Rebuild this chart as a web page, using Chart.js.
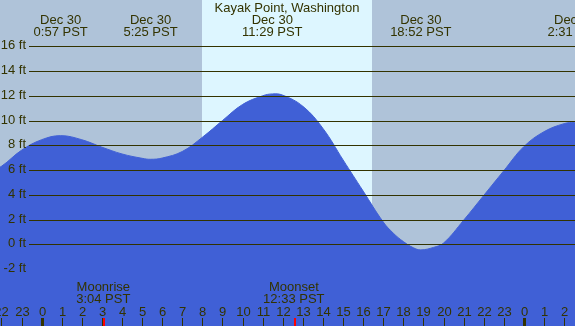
<!DOCTYPE html>
<html>
<head>
<meta charset="utf-8">
<script src="https://cdn.jsdelivr.net/npm/chart.js@4/dist/chart.umd.min.js"></script>
<style>
  html, body { margin: 0; padding: 0; background: #afc3d9; }
  #tide { display: block; }
</style>
</head>
<body>
<canvas id="tide" width="575" height="326"></canvas>
<script>
// tide heights (ft), hours from midnight Dec 30
const hours = [-3, -2, -1, 0, 0.95, 2, 3, 4, 5, 5.42, 6, 7, 8, 9, 10, 11, 11.48, 12, 13, 14, 15, 16, 17, 17.5, 18, 18.5, 18.87, 19.5, 20, 21, 22, 23, 24, 25, 26, 26.52, 27.5];
const heights = [5.4, 6.3, 7.6, 8.45, 8.78, 8.45, 7.85, 7.3, 6.95, 6.87, 6.97, 7.5, 8.65, 10.0, 11.3, 12.0, 12.15, 12.05, 11.15, 9.36, 6.82, 4.3, 1.8, 0.9, 0.22, -0.28, -0.45, -0.25, 0.1, 1.95, 3.95, 5.95, 7.9, 9.1, 9.75, 9.85, 9.8];

// high / low tide labels
const extremeHours = [0.95, 5.42, 11.48, 18.87, 26.52];
const extremeTimes = ['0:57 PST', '5:25 PST', '11:29 PST', '18:52 PST', '2:31 PST'];

// y tick levels (no line drawn at -2)
const levels = [16, 14, 12, 10, 8, 6, 4, 2, 0, -2];
const lineLevels = [16, 14, 12, 10, 8, 6, 4, 2, 0];

// daylight
const sunrise = 7.98;
const sunset = 16.44;

// moon events
const moonHours = [3.07, 12.55];
const moonNames = ['Moonrise', 'Moonset'];
const moonTimes = ['3:04 PST', '12:33 PST'];

const title = 'Kayak Point, Washington';

const nightColor = '#afc3d9';
const dayColor = '#ddf6ff';
const waterColor = '#4060d6';
const inkColor = '#333300';
const font = '13px "Liberation Sans", Arial, sans-serif';

const tidePlugin = {
  id: 'tide',
  beforeDraw(chart) {
    const { ctx, scales: { x } } = chart;
    ctx.save();
    ctx.fillStyle = nightColor;
    ctx.fillRect(0, 0, chart.width, chart.height);
    //daylight band
    const x0 = x.getPixelForValue(sunrise);
    const x1 = x.getPixelForValue(sunset);
    ctx.fillStyle = dayColor;
    ctx.fillRect(x0, 0, x1 - x0, chart.height);
    ctx.restore();
  },
  afterDatasetsDraw(chart) {
    const { ctx, scales: { x, y } } = chart;
    const W = chart.width, H = chart.height;
    ctx.save();
    ctx.font = font;

    //grid lines
    ctx.strokeStyle = inkColor;
    ctx.lineWidth = 1;
    lineLevels.forEach((v) => {
      const py = Math.round(y.getPixelForValue(v)) + 0.5;
      ctx.beginPath();
      ctx.moveTo(29, py);
      ctx.lineTo(W, py);
      ctx.stroke();
    });

    //ft labels
    ctx.fillStyle = inkColor;
    ctx.textAlign = 'right';
    ctx.textBaseline = 'middle';
    levels.forEach((v) => {
      const py = Math.round(y.getPixelForValue(v)) + 0.5;
      ctx.fillText(v + ' ft', 26, py - 1);
    });

    //title
    ctx.textAlign = 'center';
    ctx.textBaseline = 'alphabetic';
    ctx.fillText(title, 287, 12);

    //high/low labels
    extremeHours.forEach((h, i) => {
      const px = x.getPixelForValue(h);
      ctx.fillText('Dec 30', px, 24);
      ctx.fillText(extremeTimes[i], px, 36);
    });

    //moon labels
    moonHours.forEach((h, i) => {
      const px = x.getPixelForValue(h);
      ctx.fillText(moonNames[i], px, 291);
      ctx.fillText(moonTimes[i], px, 303);
    });

    //hour ticks
    for (let h = Math.ceil(x.min); h <= Math.floor(x.max); h++) {
      const px = Math.round(x.getPixelForValue(h));
      const midnight = h % 24 === 0;
      ctx.fillRect(midnight ? px - 1 : px, 318, midnight ? 3 : 1, H - 318);
      ctx.fillText(String(((h % 24) + 24) % 24), px + 0.5, 316);
    }

    //moon ticks
    ctx.fillStyle = '#ff0000';
    moonHours.forEach((h) => {
      const px = Math.round(x.getPixelForValue(h));
      ctx.fillRect(px, 318, 2, H - 318);
    });

    ctx.restore();
  },
};

new Chart(document.getElementById('tide'), {
  type: 'line',
  plugins: [tidePlugin],
  data: {
    datasets: [
      {
        data: hours.map((h, i) => ({ x: h, y: heights[i] })),
        backgroundColor: waterColor,
        borderColor: waterColor,
        borderWidth: 1,
        fill: 'start',
        pointRadius: 0,
        tension: 0.4,
      },
    ],
  },
  options: {
    responsive: false,
    animation: false,
    layout: { padding: 0 },
    scales: {
      x: { type: 'linear', min: -2.07, max: 26.54, display: false },
      y: { min: -6.6, max: 19.74, display: false },
    },
    plugins: {
      legend: { display: false },
      tooltip: { enabled: false },
    },
  },
});
</script>
</body>
</html>
